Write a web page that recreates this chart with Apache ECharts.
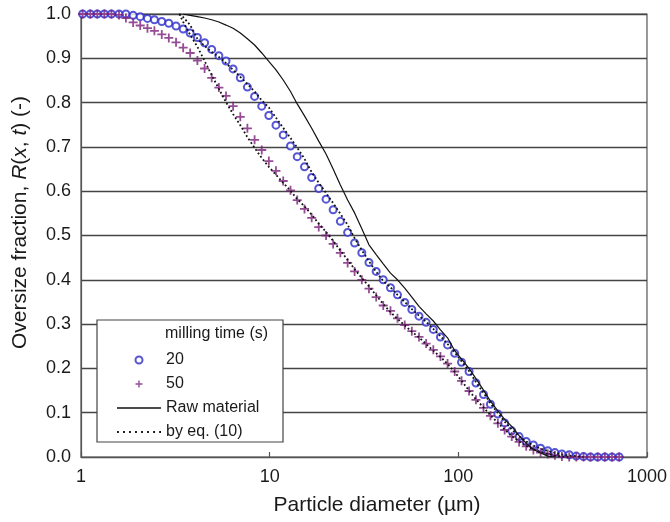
<!DOCTYPE html>
<html>
<head>
<meta charset="utf-8">
<script src="https://cdn.jsdelivr.net/npm/echarts@6/dist/echarts.min.js"></script>
<style>
  html, body { margin: 0; padding: 0; background: #fff; }
  #chart { width: 670px; height: 522px; }
</style>
</head>
<body>
<div id="chart"></div>
<script>
// particle sizes of the measured size classes (µm)
const sizes = [1.02, 1.12, 1.22, 1.33, 1.45, 1.59, 1.73, 1.89, 2.06, 2.25, 2.45, 2.68, 2.92, 3.19,
  3.48, 3.79, 4.14, 4.52, 4.93, 5.38, 5.87, 6.40, 6.99, 7.62, 8.32, 9.08, 9.90, 10.8, 11.8, 12.9,
  14.0, 15.3, 16.7, 18.2, 19.9, 21.7, 23.7, 25.9, 28.2, 30.8, 33.6, 36.7, 40.0, 43.7, 47.6, 52.0,
  56.7, 61.9, 67.5, 73.7, 80.4, 87.7, 95.7, 104, 114, 124, 136, 148, 162, 176, 192, 210, 229, 250,
  273, 298, 325, 354, 387, 422, 461, 502, 548, 598, 653, 712];

// milling time 20 s
const rTwenty = [1.000, 1.000, 1.000, 1.000, 1.000, 1.000, 1.000, 0.997, 0.994, 0.990, 0.987, 0.983,
  0.979, 0.973, 0.966, 0.957, 0.947, 0.935, 0.920, 0.906, 0.894, 0.876, 0.856, 0.835, 0.814, 0.792,
  0.771, 0.749, 0.727, 0.702, 0.678, 0.655, 0.631, 0.606, 0.582, 0.558, 0.532, 0.507, 0.483, 0.461,
  0.439, 0.419, 0.400, 0.382, 0.366, 0.349, 0.333, 0.318, 0.304, 0.288, 0.271, 0.253, 0.234, 0.214,
  0.193, 0.167, 0.141, 0.119, 0.097, 0.077, 0.059, 0.046, 0.035, 0.027, 0.020, 0.014, 0.010, 0.007,
  0.005, 0.002, 0.001, 0, 0, 0, 0, 0];

// milling time 50 s
const rFifty = [1.000, 1.000, 1.000, 1.000, 1.000, 0.998, 0.991, 0.981, 0.974, 0.968, 0.962, 0.954,
  0.946, 0.936, 0.924, 0.912, 0.895, 0.877, 0.856, 0.834, 0.815, 0.792, 0.768, 0.742, 0.716, 0.693,
  0.668, 0.646, 0.623, 0.602, 0.580, 0.560, 0.540, 0.519, 0.500, 0.481, 0.461, 0.438, 0.419, 0.400,
  0.380, 0.361, 0.342, 0.330, 0.313, 0.298, 0.284, 0.271, 0.256, 0.242, 0.227, 0.211, 0.193, 0.172,
  0.149, 0.129, 0.111, 0.093, 0.076, 0.061, 0.046, 0.034, 0.024, 0.016, 0.010, 0.007, 0.004, 0.001,
  0, 0, 0, 0, 0, 0, 0, 0];

// raw material
const rawSizes = sizes.slice(14, 67);
const rawR = [1.000, 0.997, 0.994, 0.991, 0.987, 0.982, 0.975, 0.968, 0.957, 0.944, 0.930, 0.912,
  0.893, 0.874, 0.851, 0.825, 0.797, 0.770, 0.742, 0.713, 0.684, 0.650, 0.614, 0.580, 0.551, 0.515,
  0.479, 0.457, 0.436, 0.415, 0.400, 0.381, 0.361, 0.340, 0.323, 0.307, 0.287, 0.269, 0.240, 0.221,
  0.200, 0.177, 0.151, 0.126, 0.104, 0.085, 0.069, 0.048, 0.031, 0.017, 0.009, 0.002, 0.000];

// calculated by eq. (10)
const eqSizes = [3.32].concat(sizes.slice(14, 71));
const eqTwenty = [1.000, 0.993, 0.975, 0.944, 0.928, 0.914, 0.903, 0.889, 0.874, 0.858, 0.842, 0.825,
  0.805, 0.789, 0.766, 0.743, 0.720, 0.698, 0.673, 0.643, 0.619, 0.596, 0.573, 0.549, 0.524, 0.494,
  0.467, 0.442, 0.418, 0.397, 0.383, 0.366, 0.350, 0.334, 0.319, 0.305, 0.289, 0.273, 0.255, 0.236,
  0.216, 0.194, 0.169, 0.145, 0.121, 0.099, 0.080, 0.062, 0.047, 0.035, 0.026, 0.019, 0.014, 0.009,
  0.006, 0.003, 0.002, 0.000];
const eqFifty = [1.000, 0.982, 0.953, 0.926, 0.894, 0.862, 0.831, 0.801, 0.774, 0.749, 0.722, 0.698,
  0.675, 0.655, 0.637, 0.619, 0.601, 0.582, 0.566, 0.547, 0.527, 0.508, 0.488, 0.466, 0.445, 0.424,
  0.404, 0.385, 0.365, 0.345, 0.327, 0.312, 0.297, 0.283, 0.270, 0.255, 0.240, 0.226, 0.210, 0.192,
  0.172, 0.150, 0.130, 0.112, 0.094, 0.077, 0.062, 0.047, 0.035, 0.025, 0.017, 0.011, 0.007, 0.003,
  0.001, 0.000];

const legendTitle = 'milling time (s)';

const pairs = (xs, ys) => ys.map((y, i) => [xs[i], y]);

const FONT = 'Liberation Sans, Arial, sans-serif';
const TEXT = '#1a1a1a';
const GRID_LINE = '#444';
const PLUS = 'path://M3.2,0H4.8V3.2H8V4.8H4.8V8H3.2V4.8H0V3.2H3.2Z';
// legend icons for the two curve types (no marker in the middle)
const SOLID_ICON = 'path://M0,0H44V1.3H0Z';
const DOT_ICON = 'path://M0,0h1.8v1.8h-1.8zM5.9,0h1.8v1.8h-1.8zM11.8,0h1.8v1.8h-1.8zM17.7,0h1.8v1.8h-1.8z' +
  'M23.6,0h1.8v1.8h-1.8zM29.5,0h1.8v1.8h-1.8zM35.4,0h1.8v1.8h-1.8zM41.3,0h1.8v1.8h-1.8z';

const chart = echarts.init(document.getElementById('chart'));

chart.setOption({
  animation: false,
  backgroundColor: '#fff',
  textStyle: { fontFamily: FONT },
  grid: {
    left: 81, right: 19, top: 14, bottom: 65,
    show: true, borderColor: '#555', borderWidth: 1.2
  },
  xAxis: {
    type: 'log',
    logBase: 10,
    min: 1,
    max: 1000,
    name: 'Particle diameter (µm)',
    nameLocation: 'middle',
    nameGap: 38,
    nameTextStyle: { fontSize: 21, color: TEXT, fontFamily: FONT, padding: [0, 0, 0, 26] },
    axisLine: { lineStyle: { color: '#555', width: 1.2 } },
    axisTick: { inside: true, length: 5, lineStyle: { color: '#555', width: 1.2 } },
    splitLine: { show: false },
    minorTick: { show: false },
    axisLabel: { fontSize: 18, color: TEXT, margin: 11, formatter: v => String(Math.round(v)) }
  },
  yAxis: {
    type: 'value',
    min: 0,
    max: 1,
    interval: 0.1,
    name: 'Oversize fraction, {it|R}({it|x}, {it|t}) (-)',
    nameLocation: 'middle',
    nameRotate: 90,
    nameGap: 50,
    nameTextStyle: {
      fontSize: 21, color: TEXT, fontFamily: FONT, padding: [0, 0, 0, 26],
      rich: { it: { fontSize: 21, fontStyle: 'italic', color: TEXT, fontFamily: FONT } }
    },
    axisLine: { show: true, lineStyle: { color: '#555', width: 1.2 } },
    axisTick: { show: false },
    splitLine: { lineStyle: { color: GRID_LINE, width: 1.3 } },
    axisLabel: { fontSize: 18, color: TEXT, margin: 10, formatter: v => v.toFixed(1) }
  },
  legend: {
    orient: 'vertical',
    left: 112,
    top: 347,
    z: 20,
    itemWidth: 44,
    itemHeight: 7,
    itemGap: 8,
    data: [
      { name: '20' },
      { name: '50' },
      { name: 'Raw material', icon: SOLID_ICON },
      { name: 'by eq. (10)', icon: DOT_ICON }
    ],
    textStyle: { fontSize: 16, color: TEXT, fontFamily: FONT }
  },
  graphic: [
    {
      type: 'rect',
      z: 10,
      shape: { x: 97, y: 320, width: 186, height: 122 },
      style: { fill: '#fff', stroke: '#444', lineWidth: 1.2 }
    },
    {
      type: 'text',
      z: 20,
      left: 165,
      top: 326,
      style: { text: legendTitle, font: '16px ' + FONT, fill: TEXT }
    }
  ],
  series: [
    {
      name: '20',
      type: 'scatter',
      data: pairs(sizes, rTwenty),
      symbol: 'emptyCircle',
      symbolSize: 7,
      itemStyle: { color: '#2a2acc', borderWidth: 1.3 },
      z: 3
    },
    {
      name: '50',
      type: 'scatter',
      data: pairs(sizes, rFifty),
      symbol: PLUS,
      symbolSize: 9,
      itemStyle: { color: '#7a1f7a' },
      z: 3
    },
    {
      name: 'Raw material',
      type: 'line',
      data: pairs(rawSizes, rawR),
      symbol: 'none',
      lineStyle: { color: '#111', width: 1.2 },
      itemStyle: { color: '#111' },
      z: 4
    },
    {
      name: 'by eq. (10)',
      type: 'line',
      data: pairs(eqSizes, eqTwenty),
      symbol: 'none',
      lineStyle: { color: '#111', width: 1.8, type: [1.8, 2.4] },
      itemStyle: { color: '#111' },
      z: 5
    },
    {
      name: 'by eq. (10)',
      type: 'line',
      data: pairs(eqSizes, eqFifty),
      symbol: 'none',
      lineStyle: { color: '#111', width: 1.8, type: [1.8, 2.4] },
      itemStyle: { color: '#111' },
      z: 5
    }
  ]
});
</script>
</body>
</html>
